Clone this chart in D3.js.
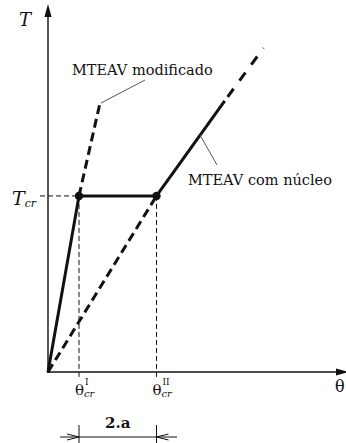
<!DOCTYPE html>
<html>
<head>
<meta charset="utf-8">
<script src="https://cdn.jsdelivr.net/npm/d3@7"></script>
<style>
  html, body { margin: 0; padding: 0; background: #fff; }
  svg { display: block; }
</style>
</head>
<body>
<svg id="chart" width="346" height="443"></svg>
<script>
// Torque–twist diagram (T vs θ), in normalised units: θ^I_cr = 1, T_cr = 1
const thetaCrI = 1.0;
const thetaCrII = 3.5;
const tCr = 1.0;

// MTEAV com núcleo: loading path (solid) and its continuation (dashed)
const nucleusPath = [[0, 0], [thetaCrI, tCr], [thetaCrII, tCr], [5.7, 1.54]];
const nucleusExtension = [[5.7, 1.54], [6.95, 1.84]];
// Elastic line through the second cracking point
const elasticLine = [[0, 0], [thetaCrII, tCr]];
// MTEAV modificado branch
const modifiedBranch = [[thetaCrI, tCr], [1.68, 1.53]];
// Marked cracking points
const crackPoints = [[thetaCrI, tCr], [thetaCrII, tCr]];
const xTickLabels = ["I", "II"];

const serif = "'DejaVu Serif', serif";
const svg = d3.select("#chart").attr("font-family", serif);
const x = d3.scaleLinear().domain([0, 9.6]).range([48, 345.6]);
const y = d3.scaleLinear().domain([0, 2.09]).range([372, 4]);
const line = d3.line().x(d => x(d[0])).y(d => y(d[1]));

const ink = "#111";

// Axes with filled arrowheads
svg.append("line").attr("x1", x(0)).attr("y1", y(0) + 1).attr("x2", x(0)).attr("y2", y(2.09) + 10)
  .attr("stroke", ink).attr("stroke-width", 1.4);
svg.append("path")
  .attr("d", `M${x(0)},${y(2.09)} L${x(0) - 3.6},${y(2.09) + 13} L${x(0) + 3.6},${y(2.09) + 13} Z`)
  .attr("fill", ink);
svg.append("line").attr("x1", x(0) - 1).attr("y1", y(0)).attr("x2", 340).attr("y2", y(0))
  .attr("stroke", ink).attr("stroke-width", 1.4);
svg.append("path")
  .attr("d", `M349,${y(0)} L336,${y(0) - 3.6} L336,${y(0) + 3.6} Z`)
  .attr("fill", ink);

// Reference guides at T_cr and the cracking rotations
svg.append("line").attr("x1", 40).attr("x2", x(thetaCrI)).attr("y1", y(tCr)).attr("y2", y(tCr))
  .attr("stroke", ink).attr("stroke-width", 1).attr("stroke-dasharray", "5,3");
crackPoints.forEach(p => {
  svg.append("line").attr("x1", x(p[0])).attr("x2", x(p[0])).attr("y1", y(p[1])).attr("y2", y(0) + 7)
    .attr("stroke", ink).attr("stroke-width", 1).attr("stroke-dasharray", "5,3");
});

// Curves
svg.append("path").attr("d", line(elasticLine)).attr("fill", "none")
  .attr("stroke", ink).attr("stroke-width", 3).attr("stroke-dasharray", "9,5");
svg.append("path").attr("d", line(modifiedBranch)).attr("fill", "none")
  .attr("stroke", ink).attr("stroke-width", 3).attr("stroke-dasharray", "9,5");
svg.append("path").attr("d", line(nucleusExtension)).attr("fill", "none")
  .attr("stroke", ink).attr("stroke-width", 3).attr("stroke-dasharray", "0,5,10,5");
svg.append("path").attr("d", line(nucleusPath)).attr("fill", "none")
  .attr("stroke", ink).attr("stroke-width", 3).attr("stroke-linejoin", "round");

svg.selectAll("circle.pt").data(crackPoints).join("circle").attr("class", "pt")
  .attr("cx", d => x(d[0])).attr("cy", d => y(d[1])).attr("r", 4.2).attr("fill", ink);

// Leader lines and labels
svg.append("line").attr("x1", 101).attr("y1", 103).attr("x2", 145).attr("y2", 80)
  .attr("stroke", "#555").attr("stroke-width", 1);
svg.append("text").attr("x", 72).attr("y", 75).attr("font-size", 14.5).attr("fill", ink).text("MTEAV modificado");
svg.append("line").attr("x1", 200).attr("y1", 135).attr("x2", 217).attr("y2", 165)
  .attr("stroke", "#555").attr("stroke-width", 1);
svg.append("text").attr("x", 188).attr("y", 185).attr("font-size", 14.5).attr("fill", ink).text("MTEAV com núcleo");

// Axis titles
svg.append("text").attr("x", 19).attr("y", 26).attr("font-size", 18).attr("font-style", "italic").attr("fill", ink).text("T");
const tcr = svg.append("text").attr("x", 12).attr("y", 205).attr("font-size", 19).attr("font-style", "italic").attr("fill", ink);
tcr.append("tspan").text("T");
tcr.append("tspan").attr("font-size", 11).attr("dy", 2).text("cr");
svg.append("text").attr("x", 335).attr("y", 392).attr("font-size", 16).attr("fill", ink).text("θ");

// θ_cr tick labels: θ with superscript index and subscript "cr"
crackPoints.forEach((p, i) => {
  const x0 = x(p[0]) - 4;
  svg.append("text").attr("x", x0).attr("y", 395).attr("font-size", 15).attr("fill", ink).text("θ");
  svg.append("text").attr("x", x0 + 9).attr("y", 397).attr("font-size", 10).attr("font-style", "italic")
    .attr("fill", ink).text("cr");
  svg.append("text").attr("x", x0 + 10).attr("y", 385).attr("font-size", 9).attr("fill", ink).text(xTickLabels[i]);
});

// Dimension of the plateau: 2.a
const dimY = 437;
svg.append("text").attr("x", (x(thetaCrI) + x(thetaCrII)) / 2).attr("y", 428)
  .attr("text-anchor", "middle").attr("font-size", 15).attr("font-weight", "bold").attr("fill", ink).text("2.a");
[thetaCrI, thetaCrII].forEach(v => {
  svg.append("line").attr("x1", x(v)).attr("x2", x(v)).attr("y1", 425).attr("y2", 443)
    .attr("stroke", ink).attr("stroke-width", 1);
});
svg.append("line").attr("x1", 60).attr("x2", 177).attr("y1", dimY).attr("y2", dimY)
  .attr("stroke", ink).attr("stroke-width", 1);
const xa = x(thetaCrI), xb = x(thetaCrII);
svg.append("path").attr("d", `M${xa - 12},${dimY - 3} L${xa},${dimY} L${xa - 12},${dimY + 3}`)
  .attr("fill", "none").attr("stroke", ink).attr("stroke-width", 1);
svg.append("path").attr("d", `M${xb + 12},${dimY - 3} L${xb},${dimY} L${xb + 12},${dimY + 3}`)
  .attr("fill", "none").attr("stroke", ink).attr("stroke-width", 1);
</script>
</body>
</html>
